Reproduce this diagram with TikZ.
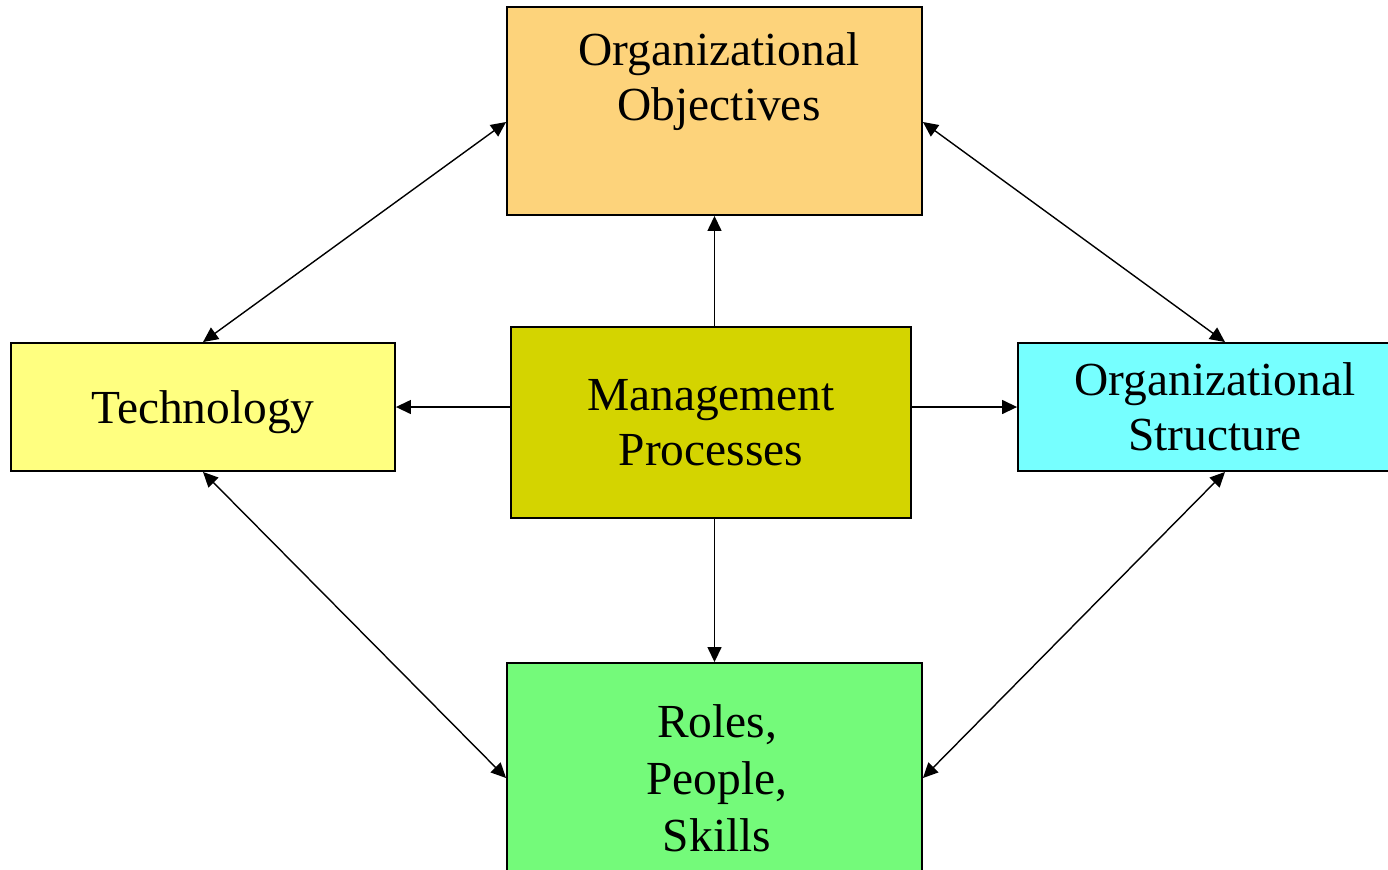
\documentclass[tikz,border=0pt]{standalone}
\usepackage{fontspec}
\setmainfont{Liberation Serif}
\usetikzlibrary{arrows.meta}

\begin{document}
\begin{tikzpicture}[
         x=0.02cm, y=-0.02cm,
         box/.style={draw, line width=1.1pt, minimum width=8.3cm, inner sep=0pt},
         label text/.style={font=\fontsize{27pt}{31.3pt}\selectfont, align=center},
         link/.style={line width=0.8pt, -{Triangle[length=0.3cm,width=0.28cm]}},
         both/.style={link, {Triangle[length=0.3cm,width=0.28cm]}-{Triangle[length=0.3cm,width=0.28cm]}}
      ]
         \useasboundingbox (0,0) rectangle (1388,869);
         \clip (0,0) rectangle (1388,869);

         % Boxes
         \node[box, fill={rgb,255:red,253;green,211;blue,123}, minimum height=4.16cm] (obj) at (714.5,111) {};
         \node[label text] (objtext) at (719,82) {Organizational\\Objectives};
         \node[box, fill={rgb,255:red,255;green,255;blue,128}, minimum width=7.68cm, minimum height=2.56cm, label text, text depth=-0.1cm] (tech) at (203,407) {Technology};
         \node[box, fill={rgb,255:red,212;green,212;blue,0}, minimum width=8cm, minimum height=3.82cm, label text] (mgmt) at (711,422.5) {Management\\Processes};
         \node[box, fill={rgb,255:red,118;green,255;blue,255}, minimum width=8.28cm, minimum height=2.56cm, label text, text depth=-0.05cm] (struct) at (1225,407) {\hspace*{-0.4cm}Organizational\\\hspace*{-0.4cm}Structure};
         \node[box, fill={rgb,255:red,116;green,250;blue,122}, minimum height=4.6cm, label text] (roles) at (714.5,778) {\hspace*{0.1cm}Roles,\\[0.04cm]\hspace*{0.1cm}People,\\[0.04cm]\hspace*{0.1cm}Skills};

         % Arrows out of the centre box
         \draw[link] (obj.south |- mgmt.north) -- (obj.south);
         \draw[link] (roles.north |- mgmt.south) -- (roles.north);
         \draw[link] (mgmt.west |- tech.east) -- (tech.east);
         \draw[link] (mgmt.east |- struct.west) -- (struct.west);

         % Arrows round the outside
         \draw[both] ([yshift=-0.22cm]obj.west) -- (tech.north);
         \draw[both] ([yshift=-0.22cm]obj.east) -- (struct.north);
         \draw[both] (tech.south) -- (roles.west);
         \draw[both] (struct.south) -- (roles.east);

      \end{tikzpicture}
\end{document}
